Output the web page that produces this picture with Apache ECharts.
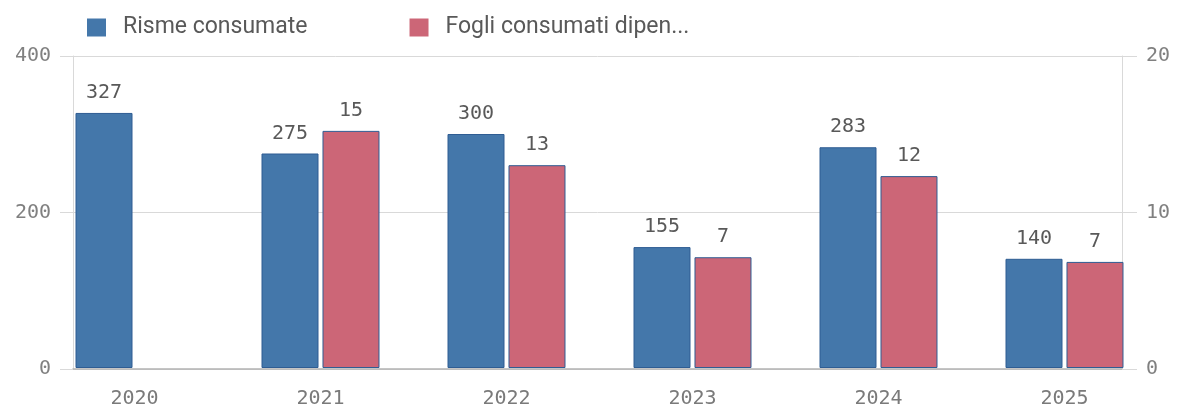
<!DOCTYPE html>
<html>
<head>
<meta charset="utf-8">
<script src="https://cdn.jsdelivr.net/npm/echarts@6/dist/echarts.min.js"></script>
<style>
  html, body { margin: 0; padding: 0; background: #fff; }
  #chart { width: 1177px; height: 409px; }
</style>
</head>
<body>
<div id="chart"></div>
<script>
// data
var years = ['2020', '2021', '2022', '2023', '2024', '2025'];
var risme = [327, 275, 300, 155, 283, 140];
var fogli = [null, 15.2, 13, 7.1, 12.3, 6.8];
var seriesNames = ['Risme consumate', 'Fogli consumati dipen...'];
var leftTicks = { min: 0, max: 400, interval: 200 };
var rightTicks = { min: 0, max: 20, interval: 10 };

document.addEventListener('DOMContentLoaded', function () {
    var myChart = echarts.init(document.getElementById('chart'));
    var mono = 'DejaVu Sans Mono';
    var gridLine = '#d9d9d9';
    var barBorder = '#2f5d93';

    var option = {
        animation: false,
        legend: {
            left: 82,
            top: 11,
            itemWidth: 19,
            itemHeight: 18,
            itemGap: 102,
            icon: 'rect',
            itemStyle: { borderWidth: 0 },
            textStyle: { fontFamily: 'Roboto', fontSize: 23, color: '#595959', padding: [0, 0, 0, 12] },
            data: seriesNames
        },
        grid: [
            // grid for axes / gridlines
            { left: 73, right: 55, top: 56, bottom: 40 },
            // grid for bars (categories run to the axis edges)
            { left: 41.5, right: 19.5, top: 56, bottom: 40 }
        ],
        xAxis: [
            {
                gridIndex: 0,
                type: 'value',
                min: 0, max: 1,
                axisLine: { show: true, lineStyle: { color: '#b3b3b3', width: 1.5 } },
                axisTick: { show: false },
                axisLabel: { show: false },
                splitLine: { show: false }
            },
            {
                gridIndex: 1,
                type: 'category',
                data: years,
                axisLine: { show: false },
                axisTick: { show: false },
                axisLabel: { fontFamily: mono, fontSize: 20, color: '#7a7a7a', margin: 21 }
            }
        ],
        yAxis: [
            {
                gridIndex: 0,
                type: 'value',
                min: leftTicks.min, max: leftTicks.max, interval: leftTicks.interval,
                axisLine: { show: true, lineStyle: { color: gridLine } },
                axisTick: { show: true, length: 13, lineStyle: { color: gridLine } },
                axisLabel: { fontFamily: mono, fontSize: 20, color: '#808080', margin: 22 },
                splitLine: { lineStyle: { color: gridLine } }
            },
            {
                gridIndex: 0,
                type: 'value',
                position: 'right',
                min: rightTicks.min, max: rightTicks.max, interval: rightTicks.interval,
                axisLine: { show: true, lineStyle: { color: gridLine } },
                axisTick: { show: true, length: 15, lineStyle: { color: gridLine } },
                axisLabel: { fontFamily: mono, fontSize: 20, color: '#808080', margin: 24 },
                splitLine: { show: false }
            },
            {
                gridIndex: 1, type: 'value',
                min: leftTicks.min, max: leftTicks.max, show: false
            },
            {
                gridIndex: 1, type: 'value',
                min: rightTicks.min, max: rightTicks.max, show: false
            }
        ],
        series: [
            {
                name: seriesNames[0],
                type: 'bar',
                xAxisIndex: 1,
                yAxisIndex: 2,
                data: risme,
                barWidth: 57,
                barGap: '7%',
                itemStyle: { color: '#4477aa', borderColor: barBorder, borderWidth: 1 },
                label: {
                    show: true, position: 'top', distance: 10,
                    fontFamily: mono, fontSize: 20, color: '#595959'
                }
            },
            {
                name: seriesNames[1],
                type: 'bar',
                xAxisIndex: 1,
                yAxisIndex: 3,
                data: fogli,
                barWidth: 57,
                barGap: '7%',
                itemStyle: { color: '#cc6677', borderColor: barBorder, borderWidth: 1 },
                label: {
                    show: true, position: 'top', distance: 10,
                    fontFamily: mono, fontSize: 20, color: '#595959',
                    formatter: function (p) { return Math.round(p.value); }
                }
            }
        ]
    };
    myChart.setOption(option);
    window.addEventListener('resize', function () {
        myChart.resize();
    });
});
</script>
</body>
</html>
